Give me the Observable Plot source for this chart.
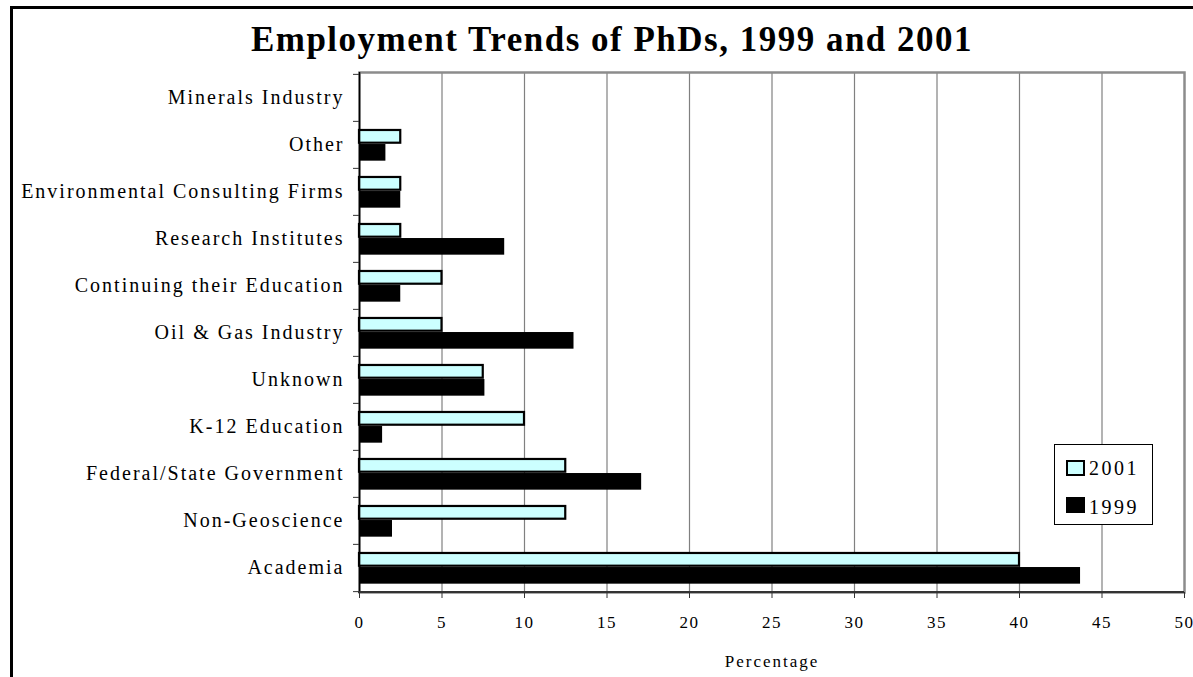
<!DOCTYPE html>
<html>
<head>
<meta charset="utf-8">
<script src="https://cdn.jsdelivr.net/npm/d3@7"></script>
<script src="https://cdn.jsdelivr.net/npm/@observablehq/plot@0.6"></script>
<style>
  html, body { margin: 0; padding: 0; background: #fff; }
  body { width: 1193px; height: 677px; overflow: hidden; position: relative; font-family: "Liberation Serif", "Times New Roman", serif; }
  #border { position: absolute; left: 10px; top: 6px; width: 1400px; height: 900px; border-left: 3px solid #000; border-top: 3px solid #000; pointer-events: none; z-index: 3; }
  #title { position: absolute; left: 612px; top: 22px; transform: translateX(-50%); white-space: nowrap; font-weight: bold; font-size: 35px; line-height: 35px; letter-spacing: 1.5px; color: #000; z-index: 2; }
  #chart { position: absolute; left: 0; top: 0; }
  #legend { position: absolute; left: 1054px; top: 444px; width: 97px; height: 79px; border: 1px solid #000; background: #fff; z-index: 2; }
  #legend .sw { position: absolute; left: 11px; width: 15px; height: 12px; box-sizing: content-box; }
  #legend .lab { position: absolute; left: 34px; font-size: 20px; line-height: 20px; letter-spacing: 2.5px; color: #000; }
  svg text { font-family: "Liberation Serif", "Times New Roman", serif; fill: #000; }
  g[aria-label="y-axis tick label"] text { letter-spacing: 2px; }
  g[aria-label="x-axis tick label"] text { letter-spacing: 1.5px; }
  g[aria-label="text"] text { letter-spacing: 2px; }
</style>
</head>
<body>
<div id="border"></div>
<div id="title"></div>
<div id="chart"></div>
<div id="legend"></div>
<script>
const titleText = "Employment Trends of PhDs, 1999 and 2001";
const xLabel = "Percentage";
const categories = [
  "Minerals Industry",
  "Other",
  "Environmental Consulting Firms",
  "Research Institutes",
  "Continuing their Education",
  "Oil & Gas Industry",
  "Unknown",
  "K-12 Education",
  "Federal/State Government",
  "Non-Geoscience",
  "Academia"
];
const seriesNames = ["2001", "1999"];
const values2001 = [0, 2.5, 2.5, 2.5, 5, 5, 7.5, 10, 12.5, 12.5, 40];
const values1999 = [0, 1.6, 2.5, 8.8, 2.5, 13.0, 7.6, 1.4, 17.1, 2.0, 43.7];
const xTicks = [0, 5, 10, 15, 20, 25, 30, 35, 40, 45, 50];
const seriesColors = ["#CCFFFF", "#000000"];

const rows2001 = categories.map((c, i) => ({category: c, series: seriesNames[0], value: values2001[i]}));
const rows1999 = categories.map((c, i) => ({category: c, series: seriesNames[1], value: values1999[i]}));

const W = 1193, H = 677, mt = 72, mb = 85, ml = 359, mr = 9;
const bw = (H - mt - mb) / categories.length;

document.getElementById("title").textContent = titleText;

const bottomLine = (index, scales, values, dims) => {
  const g = d3.create("svg:line")
    .attr("x1", dims.marginLeft - 1)
    .attr("x2", dims.width - dims.marginRight)
    .attr("y1", dims.height - dims.marginBottom)
    .attr("y2", dims.height - dims.marginBottom)
    .attr("stroke", "#333")
    .attr("stroke-width", 2);
  return g.node();
};

const chart = Plot.plot({
  width: W,
  height: H,
  marginTop: mt,
  marginBottom: mb,
  marginLeft: ml,
  marginRight: mr,
  style: {background: "transparent", fontFamily: "Liberation Serif, serif"},
  x: {domain: [0, 50], ticks: xTicks},
  y: {domain: categories, padding: 0},
  marks: [
    Plot.gridX(xTicks.filter(t => t > 0 && t < 50), {stroke: "#808080", strokeOpacity: 1, strokeWidth: 1.2}),
    Plot.frame({stroke: "#8c8c8c", strokeWidth: 2.5}),
    Plot.barX(rows2001, {x: "value", y: "category", fill: seriesColors[0], stroke: "#000", strokeWidth: 2.2,
      insetTop: bw * 0.19, insetBottom: bw * 0.535}),
    Plot.barX(rows1999, {x: "value", y: "category", fill: seriesColors[1],
      insetTop: bw * 0.487, insetBottom: bw * 0.155}),
    Plot.ruleX([0], {stroke: "#000", strokeWidth: 1.5}),
    bottomLine,
    Plot.axisX({ticks: xTicks, tickSize: 6, tickPadding: 17, fontSize: 17, label: null, stroke: "#333"}),
    Plot.text([xLabel], {frameAnchor: "bottom", dy: 74, fontSize: 17, fill: "#000"}),
    Plot.axisY({tickSize: 0, tickPadding: 15, fontSize: 20, label: null}),
    Plot.axisY({tickSize: 6, text: null, dy: -bw / 2, label: null, stroke: "#333"}),
    Plot.axisY([categories[categories.length - 1]], {tickSize: 6, text: null, dy: bw / 2, label: null, stroke: "#333"})
  ]
});
document.getElementById("chart").appendChild(chart);

// legend
const legend = document.getElementById("legend");
const legendRows = [
  {name: seriesNames[0], color: seriesColors[0], swTop: 15, labTop: 13, border: "2px solid #000"},
  {name: seriesNames[1], color: seriesColors[1], swTop: 52, labTop: 52, border: "2px solid #000"}
];
legendRows.forEach(r => {
  const sw = document.createElement("div");
  sw.className = "sw";
  sw.style.top = r.swTop + "px";
  sw.style.background = r.color;
  sw.style.border = r.border;
  legend.appendChild(sw);
  const lab = document.createElement("div");
  lab.className = "lab";
  lab.style.top = r.labTop + "px";
  lab.textContent = r.name;
  legend.appendChild(lab);
});
</script>
</body>
</html>
